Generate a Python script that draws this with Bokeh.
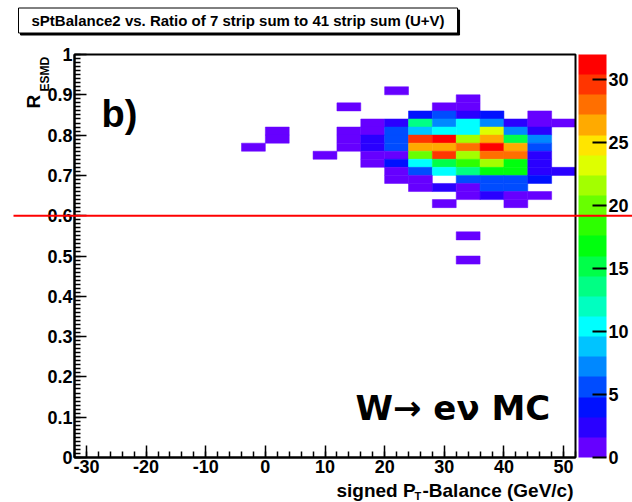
import numpy as np
from bokeh.plotting import figure
from bokeh.models import (Range1d, LinearColorMapper, ColorBar, FixedTicker, Label, LinearAxis,
                          ColumnDataSource, SingleIntervalTicker, CustomJSTickFormatter)
from bokeh.embed import file_html
from bokeh.resources import INLINE

# ---------------- data ----------------
title_text = "sPtBalance2 vs. Ratio of 7 strip sum to 41 strip sum (U+V)"
x_title = ["signed P", "T", "-Balance (GeV/c)"]
y_title = ["R", "ESMD"]
x_range_lo, x_range_hi = -32, 52
y_range_lo, y_range_hi = 0, 1
x_bin_width = 4.0
y_bin_width = 0.02
z_max = 32
cut_value = 0.6
cbar_ticks = [0, 5, 10, 15, 20, 25, 30]

# lower-left corners of filled cells and their counts
cell_y = ([0.90] + [0.88] + [0.86] * 3 + [0.84] * 5 + [0.82] * 9 + [0.80] * 10 + [0.78] * 10 +
          [0.76] * 10 + [0.74] * 9 + [0.72] * 8 + [0.70] * 8 + [0.68] * 6 + [0.66] * 5 +
          [0.64] * 4 + [0.62] * 2 + [0.54] + [0.48])
cell_x = [20,
          32,
          12, 28, 32,
          24, 28, 32, 36, 44,
          16, 20, 24, 28, 32, 36, 40, 44, 48,
          0, 12, 16, 20, 24, 28, 32, 36, 40, 44,
          0, 12, 16, 20, 24, 28, 32, 36, 40, 44,
          -4, 12, 16, 20, 24, 28, 32, 36, 40, 44,
          8, 16, 20, 24, 28, 32, 36, 40, 44,
          16, 20, 24, 28, 32, 36, 40, 44,
          20, 24, 28, 32, 36, 40, 44, 48,
          20, 24, 32, 36, 40, 44,
          24, 28, 32, 36, 40,
          32, 36, 40, 44,
          28, 40,
          32,
          32]
cell_count = [1,
              1,
              1, 1, 1,
              4, 5, 3, 4, 1,
              1, 2, 13, 7, 10, 7, 2, 1, 1,
              1, 1, 1, 5, 9, 10, 10, 23, 7, 2,
              1, 1, 2, 5, 30, 31, 21, 26, 15, 7,
              1, 1, 2, 5, 26, 26, 28, 31, 26, 5,
              1, 1, 1, 20, 30, 21, 28, 28, 2,
              1, 4, 10, 15, 18, 21, 17, 2,
              1, 5, 10, 13, 17, 17, 2, 2,
              1, 1, 5, 5, 5, 4,
              1, 2, 1, 5, 5,
              1, 2, 1, 1,
              1, 1,
              1,
              1]

palette = ["#6600ff", "#2a00ff", "#0011ff", "#004cff", "#0088ff", "#00c4ff", "#00ffff",
           "#00ffc0", "#00ff84", "#00ff49", "#00ff0e", "#2dff00", "#68ff00", "#a3ff00",
           "#deff00", "#ffe500", "#ffaa00", "#ff6f00", "#ff3500", "#ff0000"]

FONT = "Liberation Sans"
W, H = 632, 502
# histogram frame on the canvas
FL, FT, FW, FH = 74, 54, 501, 403
PAD_L, PAD_T = FL, FT
PAD_R, PAD_B = W - PAD_L - FW, H - PAD_T - FH
xu = (x_range_hi - x_range_lo) / FW
yu = (y_range_hi - y_range_lo) / FH


def dx(px):
    return x_range_lo + (px - FL) * xu


def dy(py):
    return y_range_lo + (FT + FH - py) * yu


fmt = CustomJSTickFormatter(code="return String(parseFloat(tick.toFixed(3)));")

p = figure(width=W, height=H,
           x_range=Range1d(x_range_lo - PAD_L * xu, x_range_hi + PAD_R * xu),
           y_range=Range1d(y_range_lo - PAD_B * yu, y_range_hi + PAD_T * yu),
           output_backend="svg", toolbar_location=None,
           x_axis_location=None, y_axis_location=None, min_border=0)
p.grid.visible = False
p.outline_line_color = None
p.background_fill_color = "white"
p.border_fill_color = "white"

xaxis = LinearAxis(fixed_location=y_range_lo, bounds=(x_range_lo, x_range_hi),
                   ticker=SingleIntervalTicker(interval=10, num_minor_ticks=5))
yaxis = LinearAxis(fixed_location=x_range_lo, bounds=(y_range_lo, y_range_hi),
                   ticker=SingleIntervalTicker(interval=0.1, num_minor_ticks=10))
for ax in (xaxis, yaxis):
    ax.formatter = fmt
    ax.major_tick_in = 12
    ax.major_tick_out = 0
    ax.minor_tick_in = 6
    ax.minor_tick_out = 0
    ax.axis_line_width = 2
    ax.major_tick_line_width = 1.5
    ax.minor_tick_line_width = 1.5
    ax.major_label_text_font = FONT
    ax.major_label_text_font_style = "bold"
    ax.major_label_text_font_size = "18px"
    ax.major_label_text_color = "black"
xaxis.major_label_standoff = 2
yaxis.major_label_standoff = 2
p.add_layout(xaxis, "below")
p.add_layout(yaxis, "left")

mapper = LinearColorMapper(palette=palette, low=0, high=z_max)
cx = np.array(cell_x, dtype=float)
cy = np.array(cell_y, dtype=float)
src = ColumnDataSource(dict(left=cx, right=cx + x_bin_width, bottom=cy, top=cy + y_bin_width,
                            count=cell_count))
p.quad(left="left", right="right", bottom="bottom", top="top", source=src,
       fill_color={"field": "count", "transform": mapper},
       line_color={"field": "count", "transform": mapper}, line_width=0.5)

# histogram frame
p.quad(left=[x_range_lo], right=[x_range_hi], bottom=[y_range_lo], top=[y_range_hi],
       fill_color=None, line_color="black", line_width=2)

# palette axis
cb = ColorBar(color_mapper=mapper, ticker=FixedTicker(ticks=cbar_ticks),
              formatter=fmt, width=28, height=FH, padding=0, margin=0,
              location=(FL + FW + 3, PAD_B),
              major_tick_in=14, major_tick_out=0, major_tick_line_color="black",
              major_tick_line_width=2, minor_tick_line_color=None, bar_line_color=None,
              border_line_color=None, background_fill_alpha=0, label_standoff=2,
              major_label_text_font=FONT, major_label_text_font_style="bold",
              major_label_text_font_size="18px", major_label_text_color="black")
p.add_layout(cb)

# cut line
p.segment(x0=[dx(13)], x1=[dx(640)], y0=[cut_value], y1=[cut_value],
          line_color="red", line_width=2, level="overlay")

# title box with shadow
for off, bg in ((2, "black"), (0, "white")):
    p.add_layout(Label(x=dx(18), y=dy(7.5), x_offset=off, y_offset=-off, text=title_text,
                       text_align="left", text_baseline="top", text_font=FONT,
                       text_font_style="bold", text_font_size="15px", text_color="black",
                       padding=(13, 4), background_fill_color=bg, border_line_color="black",
                       border_line_width=1))


def add_text(px, py, text, size, align="left", angle=0.0, font=FONT):
    p.add_layout(Label(x=dx(px), y=dy(py), text=text, angle=angle, text_align=align,
                       text_baseline="alphabetic", text_font=font, text_font_style="bold",
                       text_font_size=size, text_color="black"))


# axis titles
add_text(336, 490, x_title[0], "19px")
add_text(414, 495, x_title[1], "11px")
add_text(422, 490, x_title[2], "19px")
add_text(33, 108, y_title[0], "19px", angle=np.pi / 2)
add_text(44, 91, y_title[1], "12px", angle=np.pi / 2)

# in-plot texts
add_text(101, 113, "b)", "38px")
add_text(355, 407, "W\u2192 e\u03bd MC", "34px", font="DejaVu Sans")

open("out.html", "w").write(file_html(p, INLINE))
